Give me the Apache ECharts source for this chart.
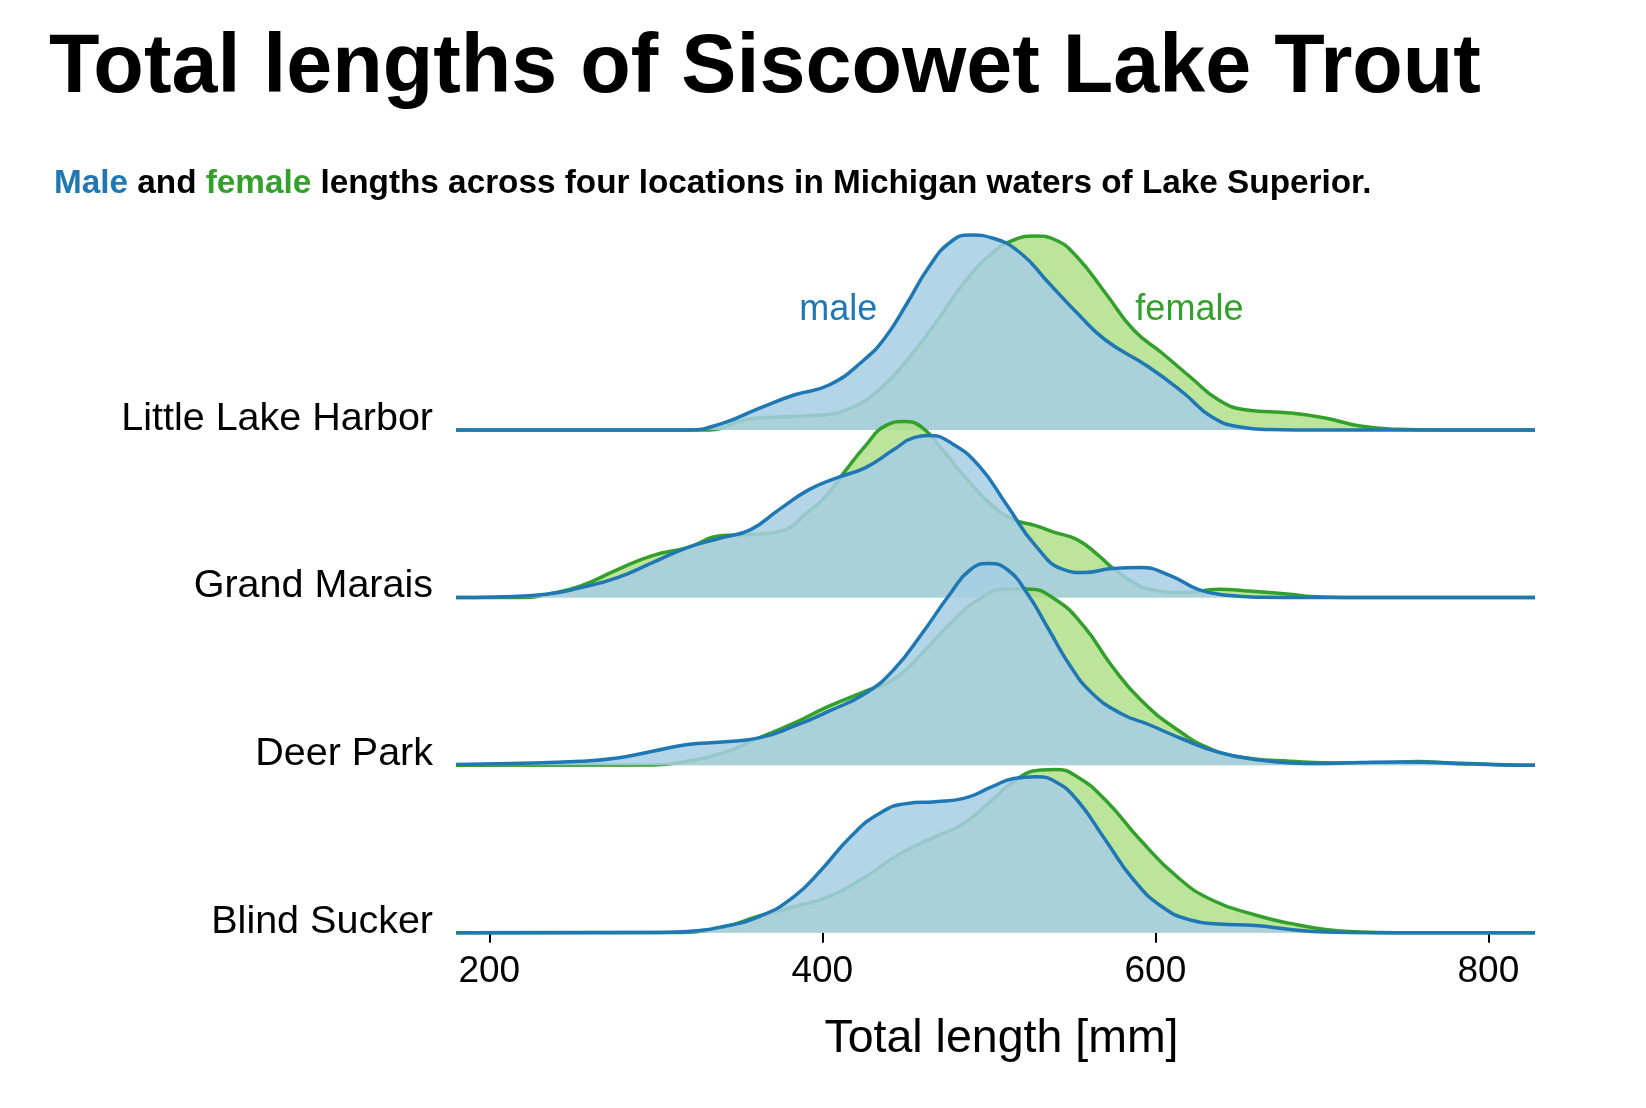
<!DOCTYPE html>
<html>
<head>
<meta charset="utf-8">
<script src="https://cdn.jsdelivr.net/npm/echarts@6/dist/echarts.min.js"></script>
<style>
html,body{margin:0;padding:0;background:#fff;}
#chart{width:1646px;height:1108px;}
</style>
</head>
<body>
<div id="chart"></div>
<script>
// ---------------- DATA ----------------
// Locations (top to bottom)
const locations = ['Little Lake Harbor', 'Grand Marais', 'Deer Park', 'Blind Sucker'];
// x tick labels (total length, mm)
const xTicks = [200, 400, 600, 800];
// Kernel density estimates, [total length (mm), relative density]
const lhMale = [[180,0],[319,0],[340,6.7],[362,21.7],[383,35],[404,45],[425,70],[438,93],[451,127],[464,163],[477,188],[489,195],[502,192],[519,177],[536,147],[553,117],[570,90],[596,63],[617,37],[634,13],[651,3],[668,0.5],[700,0],[828,0]];
const lhFemale = [[180,0],[332,0],[353,10],[374,13],[400,15],[417,22],[434,40],[451,70],[468,107],[485,147],[502,177],[515,190],[528,194],[540,190],[553,173],[570,137],[587,100],[604,77],[621,53],[638,30],[655,20],[681,17],[702,12],[723,4],[745,0.7],[770,0],[828,0]];
const gmMale = [[180,0],[204,0.7],[234,3.3],[255,10],[277,20],[298,35],[319,50],[340,60],[357,68],[374,88],[392,108],[409,120],[426,130],[443,148],[455,160],[464,162],[477,155],[494,132],[511,92],[528,52],[545,28],[557,25],[574,29],[591,30],[609,22],[626,8],[643,2.3],[664,0.3],[690,0],[828,0]];
const gmFemale = [[180,0],[221,0],[234,3],[255,11.7],[277,28],[298,42],[319,50],[340,62],[357,63],[374,66],[391,85],[404,105],[413,125],[426,152],[438,172],[449,176],[460,170],[472,148],[485,122],[502,92],[515,78],[528,72],[540,65],[553,58],[566,42],[574,30],[587,15],[596,8.3],[617,5],[638,8.3],[655,6.7],[681,3.3],[694,1],[715,0],[828,0]];
const dpMale = [[180,0.7],[213,1.7],[255,4],[277,7.3],[298,14],[319,20.7],[340,23.3],[362,27.3],[383,39],[404,54],[426,72],[443,95.7],[460,132],[477,172],[489,195.7],[500,201.7],[511,195.7],[523,172],[536,135.7],[549,99],[562,72],[579,52],[596,40.7],[617,25.7],[638,13],[660,5.7],[681,2.3],[702,1.7],[723,2.7],[745,3.3],[766,2.7],[787,1.3],[809,0.3],[828,0]];
const dpFemale = [[180,0],[298,0.3],[319,4],[340,12],[362,27.3],[383,42],[404,59],[426,74],[443,86],[460,112],[477,142],[494,165.7],[511,176.3],[523,176.3],[540,165.7],[557,139],[574,99],[591,65.7],[613,35.7],[634,15.7],[655,7.3],[681,4],[711,2.3],[736,2.3],[757,3.7],[779,2.3],[804,0.7],[828,0]];
const bsMale = [[180,0],[298,0.3],[319,1.3],[340,6],[362,16],[383,36],[400,64],[417,96],[434,119],[451,129.3],[468,131],[485,134.3],[502,146],[515,154.3],[528,156],[540,151],[553,132.7],[570,92.7],[587,52.7],[604,26],[621,12.7],[638,8.7],[660,7.3],[681,3.3],[702,0.7],[730,0],[828,0]];
const bsFemale = [[180,0],[311,0.3],[340,5.3],[362,16.7],[383,26],[404,36],[426,56],[447,79.3],[468,96],[485,109.3],[502,132.7],[519,156],[532,162.7],[540,163.3],[553,156],[570,132.7],[591,92.7],[613,56],[634,32.7],[660,17.7],[681,9.3],[702,3.3],[723,0.7],[745,0],[828,0]];
const maleSeries = [lhMale, gmMale, dpMale, bsMale];
const femaleSeries = [lhFemale, gmFemale, dpFemale, bsFemale];
// annotation labels in the top ridge: [text, x (mm), relative density]
const annotations = [['male', 433, 120], ['female', 588, 120]];

// ---------------- STYLE / LAYOUT ----------------
const FONT = '"Liberation Sans", Arial, Helvetica, sans-serif';
const BLUE = '#1f78b4', BLUE_FILL = 'rgba(166,206,227,0.86)';
const GREEN = '#33a02c', GREEN_FILL = 'rgba(178,223,138,0.85)';
const X_MIN = 180, X_MAX = 828;
const RIDGE = 168;           // value range that equals one row of spacing
const baselines = [430, 597.6, 765.2, 932.7];
const GRID_LEFT = 456, GRID_RIGHT = 111;

const grids = [], xAxes = [], yAxes = [], series = [];
locations.forEach((loc, i) => {
  const isLast = i === locations.length - 1;
  grids.push({left: GRID_LEFT, right: GRID_RIGHT, top: baselines[i] - RIDGE, height: RIDGE, containLabel: false});
  xAxes.push({
    type: 'value', gridIndex: i, min: X_MIN, max: X_MAX, show: isLast,
    axisLine: {show: false}, splitLine: {show: false},
    axisTick: {show: isLast, customValues: xTicks, length: 10, lineStyle: {color: '#000', width: 2}},
    axisLabel: {show: isLast, customValues: xTicks, margin: 21, fontSize: 37, color: '#000', fontFamily: FONT},
    name: isLast ? 'Total length [mm]' : '', nameLocation: 'middle', nameGap: 83,
    nameTextStyle: {fontSize: 46.5, color: '#000', fontFamily: FONT, padding: [0, 0, 0, 12]}
  });
  yAxes.push({
    type: 'value', gridIndex: i, min: 0, max: RIDGE, interval: RIDGE,
    axisLine: {show: false}, axisTick: {show: false}, splitLine: {show: false},
    axisLabel: {
      show: true, margin: 23, fontSize: 39.5, color: '#000', fontFamily: FONT,
      verticalAlign: 'bottom', lineHeight: 22,
      formatter: v => (v === 0 ? loc : '')
    }
  });
  const common = {type: 'line', xAxisIndex: i, yAxisIndex: i, smooth: 0.5, showSymbol: false, clip: false, silent: true, animation: false};
  series.push(Object.assign({}, common, {
    name: loc + ' female', data: femaleSeries[i], z: 2 + i * 2,
    lineStyle: {color: GREEN, width: 3.5}, itemStyle: {color: GREEN}, areaStyle: {color: GREEN_FILL, opacity: 1}
  }));
  const male = Object.assign({}, common, {
    name: loc + ' male', data: maleSeries[i], z: 3 + i * 2,
    lineStyle: {color: BLUE, width: 3.5}, itemStyle: {color: BLUE}, areaStyle: {color: BLUE_FILL, opacity: 1}
  });
  if (i === 0) {
    male.markPoint = {
      symbol: 'circle', symbolSize: 1, itemStyle: {color: 'rgba(0,0,0,0)'}, animation: false, z: 20,
      data: annotations.map((a, k) => ({
        coord: [a[1], a[2]],
        label: {show: true, position: 'inside', formatter: a[0], fontSize: 36, fontFamily: FONT,
          color: k === 0 ? BLUE : GREEN, align: k === 0 ? 'right' : 'left', verticalAlign: 'middle'}
      }))
    };
  }
  series.push(male);
});

const chart = echarts.init(document.getElementById('chart'), null, {renderer: 'canvas'});
chart.setOption({
  backgroundColor: '#fff',
  animation: false,
  title: [
    {text: 'Total lengths of Siscowet Lake Trout', left: 44, top: 23,
     textStyle: {fontSize: 82.7, fontWeight: 'bold', color: '#000', fontFamily: FONT}},
    {text: '{m|Male} and {f|female} lengths across four locations in Michigan waters of Lake Superior.', left: 49, top: 162,
     textStyle: {fontSize: 33.3, fontWeight: 'bold', color: '#000', fontFamily: FONT,
       rich: {
         m: {color: BLUE, fontSize: 33.3, fontWeight: 'bold', fontFamily: FONT},
         f: {color: GREEN, fontSize: 33.3, fontWeight: 'bold', fontFamily: FONT}
       }}}
  ],
  grid: grids, xAxis: xAxes, yAxis: yAxes, series: series
});
</script>
</body>
</html>
